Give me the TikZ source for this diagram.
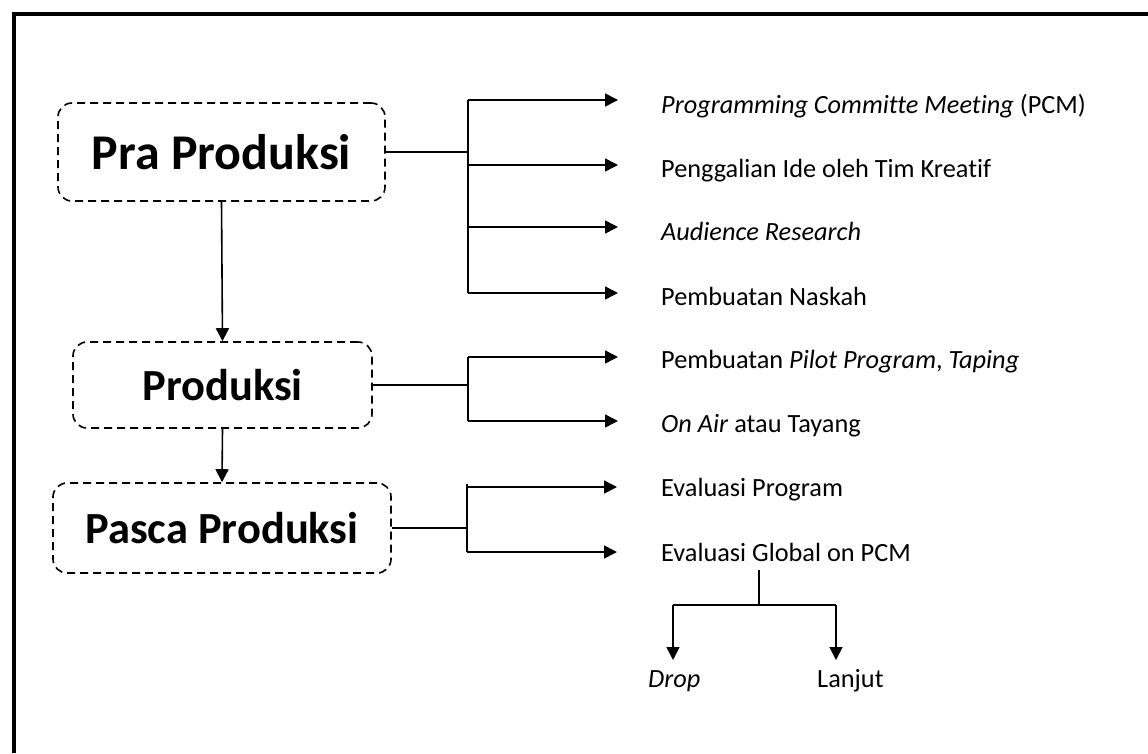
\documentclass[tikz,border=0pt]{standalone}
\usepackage{fontspec}
\setmainfont{Carlito}[Ligatures=NoCommon]
\usetikzlibrary{arrows.meta}
\begin{document}
\begin{tikzpicture}[x=1pt,y=-1pt,
  stage/.style={draw, dash pattern=on 8pt off 5pt, line width=1.6pt,
    rounded corners=14pt, inner sep=0pt,
    font=\fontsize{44.5}{54}\selectfont\bfseries},
  lbl/.style={anchor=base west, inner sep=0pt, font=\fontsize{26.3}{31}\selectfont},
  conn/.style={line width=1.6pt},
  arr/.style={conn, -{Triangle[length=13pt,width=13pt]}},
]
\useasboundingbox (0,0) rectangle (1148,753);

% outer frame (top and left edges)
\draw[line width=4.5pt] (14,753) -- (14,14) -- (1148,14);

% stages
\node[stage, minimum width=327pt, minimum height=98pt,
  font=\fontsize{50}{60}\selectfont\bfseries] (pra) at (221.5,152) {Pra Produksi};
\node[stage, minimum width=299pt, minimum height=86pt] (prod) at (222.5,385) {Produksi};
\node[stage, minimum width=338pt, minimum height=90pt] (pasca) at (222,528) {Pasca Produksi};

\draw[arr] (pra.south) -- (prod.north);
\draw[arr] (prod.south) -- (pasca.north);

% activity labels
\node[lbl] (l1) at (661,113) {\itshape Programming Committe Meeting\/\upshape{} (PCM)};
\node[lbl] (l2) at (661,177) {Penggalian Ide oleh Tim Kreatif};
\node[lbl] (l3) at (661,240) {\itshape Audience Research};
\node[lbl] (l4) at (661,305) {Pembuatan Naskah};
\node[lbl] (l5) at (661,368) {Pembuatan \textit{Pilot Program}, \textit{Taping}};
\node[lbl] (l6) at (661,432) {\textit{On Air} atau Tayang};
\node[lbl] (l7) at (661,496) {Evaluasi Program};
\node[lbl] (l8) at (661,561) {Evaluasi Global on PCM};
\node[lbl] (drop) at (648,687) {\itshape Drop};
\node[lbl] (lanjut) at (817,687) {Lanjut};

% Pra Produksi branches
\coordinate (pj) at (468,152);
\coordinate (pt) at (468,100);
\coordinate (pb) at (468,293);
\coordinate (p2) at (468,165);
\coordinate (p3) at (468,227);
\draw[conn] (pra.east) -- (pj);
\draw[conn] (pt) -- (pb);
\draw[arr] (pt) -- (618,100);
\draw[arr] (p2) -- (618,165);
\draw[arr] (p3) -- (618,227);
\draw[arr] (pb) -- (618,293);

% Produksi branches
\coordinate (dj) at (468,385);
\coordinate (dt) at (468,357);
\coordinate (db) at (468,421);
\draw[conn] (prod.east) -- (dj);
\draw[conn] (dt) -- (db);
\draw[arr] (dt) -- (618,357);
\draw[arr] (db) -- (618,421);

% Pasca Produksi branches
\coordinate (sj) at (467,528);
\coordinate (st) at (467,484);
\coordinate (s1) at (467,487);
\coordinate (sb) at (467,552);
\draw[conn] (pasca.east) -- (sj);
\draw[conn] (st) -- (sb);
\draw[arr] (s1) -- (617,487);
\draw[arr] (sb) -- (617,552);

% outcome of the global evaluation
\coordinate (et) at (759,570);
\coordinate (em) at (759,605);
\coordinate (el) at (673,605);
\coordinate (er) at (836,605);
\draw[conn] (et) -- (em);
\draw[conn] (el) -- (er);
\draw[arr] (el) -- (673,660);
\draw[arr] (er) -- (836,660);
\end{tikzpicture}
\end{document}
